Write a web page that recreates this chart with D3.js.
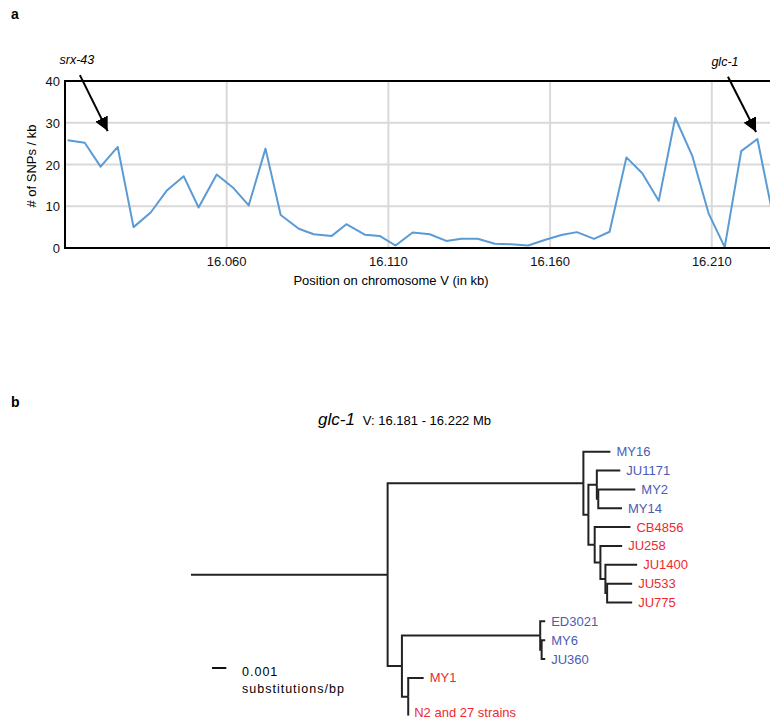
<!DOCTYPE html>
<html>
<head>
<meta charset="utf-8">
<script src="https://cdnjs.cloudflare.com/ajax/libs/d3/7.8.5/d3.min.js"></script>
<style>
  body { margin: 0; background: #fff; }
  svg { font-family: "Liberation Sans", Arial, sans-serif; display: block; }
  .gridLine { stroke: #d9d9d9; stroke-width: 2; }
  .frame { stroke: #000; stroke-width: 2; }
  .tickText { font-size: 13px; fill: #111; }
  .treeLink { fill: none; stroke: #222; stroke-width: 2; }
  .leafText { font-size: 13px; }
</style>
</head>
<body>
<div id="chart"></div>
<script>
// Panel a data: window position (Mb) and SNP density
var snpPos = [16.0108, 16.0161, 16.0210, 16.0263, 16.0312, 16.0365, 16.0414, 16.0467, 16.0513, 16.0569,
  16.0619, 16.0668, 16.0720, 16.0767, 16.0823, 16.0869, 16.0925, 16.0970, 16.1027, 16.1073,
  16.1122, 16.1175, 16.1228, 16.1279, 16.1326, 16.1376, 16.1429, 16.1480, 16.1532, 16.1583,
  16.1635, 16.1683, 16.1736, 16.1784, 16.1836, 16.1885, 16.1936, 16.1987, 16.2040, 16.2090,
  16.2140, 16.2191, 16.2241, 16.2291];
var snpDensity = [25.8, 25.2, 19.5, 24.2, 5.0, 8.5, 13.7, 17.2, 9.7, 17.6,
  14.5, 10.2, 23.8, 7.9, 4.6, 3.3, 2.9, 5.7, 3.2, 2.9,
  0.6, 3.7, 3.3, 1.7, 2.2, 2.2, 1.0, 0.9, 0.6, 1.9,
  3.1, 3.8, 2.2, 3.9, 21.7, 17.9, 11.3, 31.2, 22.0, 8.3,
  0.2, 23.2, 26.1, 7.0];
var xTicks = [16.060, 16.110, 16.160, 16.210];
var yTicks = [0, 10, 20, 30, 40];
// gene annotations: label, arrow start and tip in data units
var geneNames = ["srx-43", "glc-1"];
var geneFrom = [[16.0146, 41.4], [16.2150, 41.0]];
var geneTip = [[16.0232, 28.0], [16.2237, 27.8]];

// Panel b data: tree as node, parent, branch length (substitutions/bp)
var nodeIds = ["base", "R", "N1", "MY16", "N2n", "N3", "JU1171", "N3b", "MY2", "MY14",
  "N4", "CB4856", "N5", "JU258", "N6", "JU1400", "N7", "JU533", "JU775",
  "L", "NE", "ED3021", "NS", "MY6", "JU360", "NM", "MY1", "N2"];
var nodeParents = ["", "base", "R", "N1", "N1", "N2n", "N3", "N3", "N3b", "N3b",
  "N2n", "N4", "N4", "N5", "N5", "N6", "N6", "N7", "N7",
  "R", "L", "NE", "NE", "NS", "NS", "L", "NM", "NM"];
var branchLen = [0, 0.01375, 0.01369, 0.00189, 0.00035, 0.00059, 0.00164, 0.0001, 0.00259, 0.00166,
  0.00044, 0.0025, 0.0004, 0.00152, 0.00035, 0.00222, 0.00012, 0.00175, 0.00175,
  0.001, 0.00967, 0.00035, 0.0001, 0.00025, 0.00025, 0.00044, 0.00108, 0];
// leaves: tip label, row in the drawing, mating group
var leafIds = ["MY16", "JU1171", "MY2", "MY14", "CB4856", "JU258", "JU1400", "JU533", "JU775",
  "ED3021", "MY6", "JU360", "MY1", "N2"];
var leafLabels = ["MY16", "JU1171", "MY2", "MY14", "CB4856", "JU258", "JU1400", "JU533", "JU775",
  "ED3021", "MY6", "JU360", "MY1", "N2 and 27 strains"];
var leafRows = [0, 1, 2, 3, 4, 5, 6, 7, 8, 9, 10, 11, 12, 14];
var leafGroup = ["B", "B", "B", "B", "R", "R", "R", "R", "R", "B", "B", "B", "R", "R"];

var width = 770;
var height = 721;

var svg = d3.select("#chart")
  .append("svg")
  .attr("width", width)
  .attr("height", height);

// arrow head
svg.append("defs")
  .append("marker")
  .attr("id", "arrowHead")
  .attr("viewBox", "0 0 10 10")
  .attr("refX", 10)
  .attr("refY", 5)
  .attr("markerWidth", 7)
  .attr("markerHeight", 7)
  .attr("markerUnits", "strokeWidth")
  .attr("orient", "auto")
  .append("path")
  .attr("d", "M0,0L10,5L0,10Z")
  .attr("fill", "#000");

// panel letters
svg.append("text").attr("x", 11).attr("y", 19)
  .attr("font-weight", "bold").attr("font-size", 14).text("a");
svg.append("text").attr("x", 11).attr("y", 407)
  .attr("font-weight", "bold").attr("font-size", 14).text("b");

//----- Panel a: SNP density line -----
var xScale = d3.scaleLinear().domain([16.010, 16.228]).range([65, 770]);
var yScale = d3.scaleLinear().domain([0, 40]).range([248, 81]);

var gA = svg.append("g");

// grid
gA.selectAll(".xGrid").data(xTicks).enter()
  .append("line")
  .attr("class", "gridLine")
  .attr("x1", function(d) { return xScale(d); })
  .attr("x2", function(d) { return xScale(d); })
  .attr("y1", yScale(40))
  .attr("y2", yScale(0));

gA.selectAll(".yGrid").data(yTicks.slice(1, 4)).enter()
  .append("line")
  .attr("class", "gridLine")
  .attr("x1", xScale.range()[0])
  .attr("x2", xScale.range()[1])
  .attr("y1", function(d) { return yScale(d); })
  .attr("y2", function(d) { return yScale(d); });

// tick labels
gA.selectAll(".xLab").data(xTicks).enter()
  .append("text")
  .attr("class", "tickText")
  .attr("x", function(d) { return xScale(d); })
  .attr("y", 266)
  .attr("text-anchor", "middle")
  .text(d3.format(".3f"));

gA.selectAll(".yLab").data(yTicks).enter()
  .append("text")
  .attr("class", "tickText")
  .attr("x", 60)
  .attr("y", function(d) { return yScale(d) + 5; })
  .attr("text-anchor", "end")
  .text(function(d) { return d; });

// data line
var line = d3.line()
  .x(function(d, i) { return xScale(snpPos[i]); })
  .y(function(d) { return yScale(d); });

gA.append("path")
  .datum(snpDensity)
  .attr("d", line)
  .attr("fill", "none")
  .attr("stroke", "#5b9bd5")
  .attr("stroke-width", 2)
  .attr("stroke-linejoin", "round");

// frame (left, top, bottom)
gA.append("path")
  .attr("class", "frame")
  .attr("fill", "none")
  .attr("d", "M" + xScale.range()[1] + "," + yScale(40) +
    "H" + xScale.range()[0] + "V" + yScale(0) + "H" + xScale.range()[1]);

// axis titles
gA.append("text")
  .attr("x", 391)
  .attr("y", 285)
  .attr("text-anchor", "middle")
  .attr("font-size", 13)
  .text("Position on chromosome V (in kb)");

gA.append("text")
  .attr("transform", "translate(36,166)rotate(-90)")
  .attr("text-anchor", "middle")
  .attr("font-size", 13)
  .text("# of SNPs / kb");

// gene arrows
geneNames.forEach(function(name, i) {
  gA.append("line")
    .attr("x1", xScale(geneFrom[i][0]))
    .attr("y1", yScale(geneFrom[i][1]))
    .attr("x2", xScale(geneTip[i][0]))
    .attr("y2", yScale(geneTip[i][1]))
    .attr("stroke", "#000")
    .attr("stroke-width", 2)
    .attr("marker-end", "url(#arrowHead)");
  gA.append("text")
    .attr("x", xScale(geneFrom[i][0]) - 3)
    .attr("y", yScale(geneFrom[i][1]) - 11)
    .attr("text-anchor", "middle")
    .attr("font-style", "italic")
    .attr("font-size", 12.5)
    .text(name);
});

//----- Panel b: glc-1 tree -----
var title = svg.append("text").attr("x", 318).attr("y", 425);
title.append("tspan").attr("font-style", "italic").attr("font-size", 17).text("glc-1");
title.append("tspan").attr("dx", 8).attr("font-size", 13).text("V: 16.181 - 16.222 Mb");

var rows = nodeIds.map(function(id, i) {
  return { id: id, parent: nodeParents[i], len: branchLen[i] };
});
var root = d3.stratify()
  .id(function(d) { return d.id; })
  .parentId(function(d) { return d.parent || null; })(rows);

var treeX = d3.scaleLinear().domain([0, 0.001]).range([191, 205.3]);
var treeY = d3.scaleLinear().domain([0, 1]).range([451.7, 470.55]);
var groupColor = d3.scaleOrdinal().domain(["B", "R"]).range(["#4a5db3", "#ee2a2f"]);

// cumulative distance from the base
root.eachBefore(function(n) {
  n.dist = (n.parent ? n.parent.dist : 0) + n.data.len;
});
// leaf rows, internal nodes at the middle of their children
root.eachAfter(function(n) {
  if (n.children) {
    n.ty = (n.children[0].ty + n.children[n.children.length - 1].ty) / 2;
  } else {
    n.ty = treeY(leafRows[leafIds.indexOf(n.id)]);
  }
});

var gB = svg.append("g");

gB.selectAll(".treeLink")
  .data(root.descendants().filter(function(n) { return n.parent; }))
  .enter()
  .append("path")
  .attr("class", "treeLink")
  .attr("d", function(n) {
    var px = treeX(n.parent.dist);
    return "M" + px + "," + n.parent.ty + "V" + n.ty + "H" + treeX(n.dist);
  });

gB.selectAll(".leafText")
  .data(root.leaves())
  .enter()
  .append("text")
  .attr("class", "leafText")
  .attr("x", function(n) { return treeX(n.dist) + 6; })
  // keep the last label inside the picture
  .attr("y", function(n) { return Math.min(n.ty + 4.5, height - 4); })
  .attr("fill", function(n) { return groupColor(leafGroup[leafIds.indexOf(n.id)]); })
  .text(function(n) { return leafLabels[leafIds.indexOf(n.id)]; });

// scale bar
var barY = 668;
gB.append("line")
  .attr("x1", treeX(0) + 21)
  .attr("x2", treeX(0.001) + 21)
  .attr("y1", barY)
  .attr("y2", barY)
  .attr("stroke", "#111")
  .attr("stroke-width", 2);
gB.append("text")
  .attr("x", 242).attr("y", 676)
  .attr("font-size", 12.5).attr("letter-spacing", 1)
  .text("0.001");
gB.append("text")
  .attr("x", 242).attr("y", 693)
  .attr("font-size", 12.5).attr("letter-spacing", 1)
  .text("substitutions/bp");
</script>
</body>
</html>
